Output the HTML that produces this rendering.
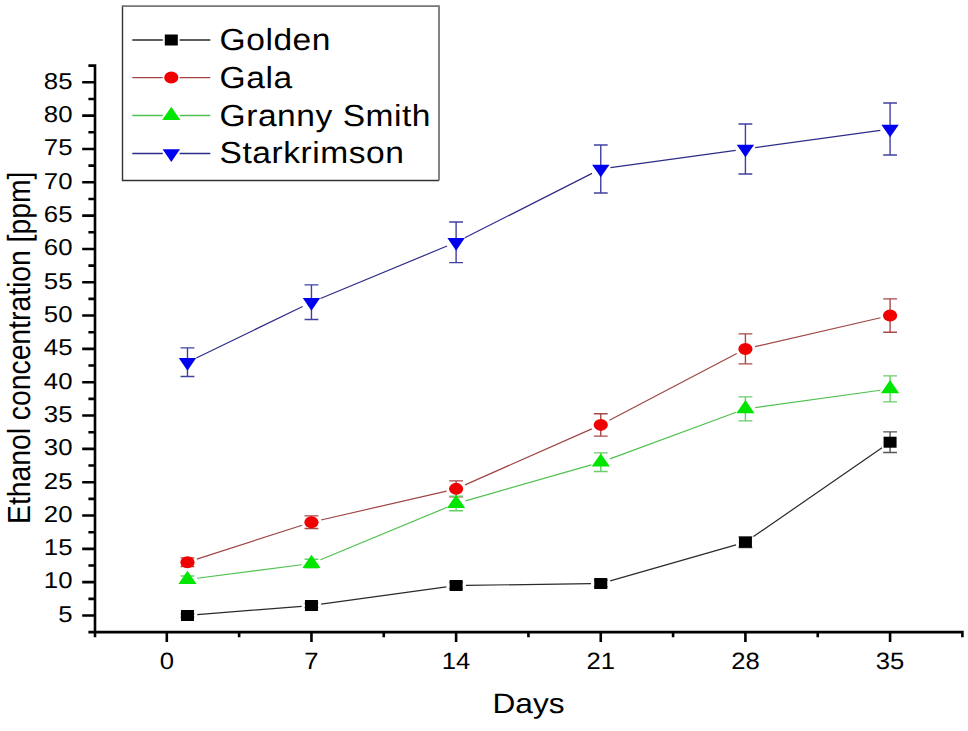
<!DOCTYPE html>
<html><head><meta charset="utf-8"><style>
html,body{margin:0;padding:0;background:#fff;}
svg{display:block;}
text{font-family:"Liberation Sans",sans-serif;fill:#000;text-rendering:geometricPrecision;}
</style></head><body>
<svg width="968" height="731" viewBox="0 0 968 731">
<rect width="968" height="731" fill="#fff"/>
<path d="M197.23,614.71L301.69,606.29M321.16,604.16L446.40,586.85M465.91,585.37L590.97,583.64M610.19,580.82L736.00,544.88M753.48,536.61L882.01,447.78" stroke="#2a2a2a" stroke-width="1.2" fill="none"/>
<path d="M196.79,559.17L302.13,525.20M321.00,519.99L446.56,491.07M465.07,484.90L591.80,428.85M609.44,420.32L736.74,353.46M754.97,346.70L880.53,317.78" stroke="#a04545" stroke-width="1.2" fill="none"/>
<path d="M197.18,578.26L301.74,564.77M320.51,559.76L447.06,507.28M465.53,500.84L591.34,464.90M609.96,458.82L736.22,412.27M755.13,407.54L880.37,390.23" stroke="#50c050" stroke-width="1.2" fill="none"/>
<path d="M196.29,357.96L302.63,306.51M320.51,298.49L447.06,246.01M464.85,237.83L592.02,173.38M610.47,167.60L735.71,150.29M755.13,147.61L880.37,130.30" stroke="#2c2c88" stroke-width="1.2" fill="none"/>
<path d="M187.47,613.83V617.17M180.56,613.83H194.37M180.56,617.17H194.37M311.46,603.34V607.67M304.56,603.34H318.36M304.56,607.67H318.36M456.11,582.34V588.67M449.21,582.34H463.01M449.21,588.67H463.01M600.76,580.24V586.77M593.87,580.24H607.66M593.87,586.77H607.66M745.42,536.85V547.52M738.52,536.85H752.32M738.52,547.52H752.32M890.08,431.88V452.54M883.18,431.88H896.98M883.18,452.54H896.98" stroke="#555555" stroke-width="1.4" fill="none"/>
<path d="M187.47,557.85V566.51M180.56,557.85H194.37M180.56,566.51H194.37M311.46,515.86V528.52M304.56,515.86H318.36M304.56,528.52H318.36M456.11,480.87V496.86M449.21,480.87H463.01M449.21,496.86H463.01M600.76,413.68V436.08M593.87,413.68H607.66M593.87,436.08H607.66M745.42,333.90V363.90M738.52,333.90H752.32M738.52,363.90H752.32M890.08,298.91V332.24M883.18,298.91H896.98M883.18,332.24H896.98" stroke="#a84848" stroke-width="1.4" fill="none"/>
<path d="M187.47,576.04V582.97M180.56,576.04H194.37M180.56,582.97H194.37M311.46,559.25V567.78M304.56,559.25H318.36M304.56,567.78H318.36M456.11,496.26V510.79M449.21,496.26H463.01M449.21,510.79H463.01M600.76,452.87V471.54M593.87,452.87H607.66M593.87,471.54H607.66M745.42,396.89V420.88M738.52,396.89H752.32M738.52,420.88H752.32M890.08,375.89V401.89M883.18,375.89H896.98M883.18,401.89H896.98" stroke="#6acc6a" stroke-width="1.4" fill="none"/>
<path d="M187.47,347.90V376.56M180.56,347.90H194.37M180.56,376.56H194.37M311.46,284.92V319.57M304.56,284.92H318.36M304.56,319.57H318.36M456.11,221.93V262.59M449.21,221.93H463.01M449.21,262.59H463.01M600.76,144.95V192.94M593.87,144.95H607.66M593.87,192.94H607.66M745.42,123.96V173.94M738.52,123.96H752.32M738.52,173.94H752.32M890.08,102.96V154.95M883.18,102.96H896.98M883.18,154.95H896.98" stroke="#4040a0" stroke-width="1.4" fill="none"/>
<rect x="180.97" y="610.00" width="13.0" height="11.0" fill="#000000"/>
<rect x="304.96" y="600.00" width="13.0" height="11.0" fill="#000000"/>
<rect x="449.61" y="580.01" width="13.0" height="11.0" fill="#000000"/>
<rect x="594.26" y="578.01" width="13.0" height="11.0" fill="#000000"/>
<rect x="738.92" y="536.68" width="13.0" height="11.0" fill="#000000"/>
<rect x="883.58" y="436.71" width="13.0" height="11.0" fill="#000000"/>
<ellipse cx="187.47" cy="562.18" rx="7.1" ry="6.0" fill="#f00000"/>
<ellipse cx="311.46" cy="522.19" rx="7.1" ry="6.0" fill="#f00000"/>
<ellipse cx="456.11" cy="488.87" rx="7.1" ry="6.0" fill="#f00000"/>
<ellipse cx="600.76" cy="424.88" rx="7.1" ry="6.0" fill="#f00000"/>
<ellipse cx="745.42" cy="348.90" rx="7.1" ry="6.0" fill="#f00000"/>
<ellipse cx="890.08" cy="315.57" rx="7.1" ry="6.0" fill="#f00000"/>
<path d="M187.47,570.71 L196.56,583.91 L178.37,583.91Z" fill="#00e600"/>
<path d="M311.46,554.71 L320.56,567.91 L302.36,567.91Z" fill="#00e600"/>
<path d="M456.11,494.73 L465.21,507.93 L447.01,507.93Z" fill="#00e600"/>
<path d="M600.76,453.41 L609.87,466.61 L591.66,466.61Z" fill="#00e600"/>
<path d="M745.42,400.08 L754.52,413.28 L736.32,413.28Z" fill="#00e600"/>
<path d="M890.08,380.09 L899.18,393.29 L880.98,393.29Z" fill="#00e600"/>
<path d="M178.77,358.03 L196.16,358.03 L187.47,370.63Z" fill="#0000f0"/>
<path d="M302.76,298.05 L320.16,298.05 L311.46,310.64Z" fill="#0000f0"/>
<path d="M447.41,238.06 L464.81,238.06 L456.11,250.66Z" fill="#0000f0"/>
<path d="M592.06,164.75 L609.47,164.75 L600.76,177.34Z" fill="#0000f0"/>
<path d="M736.72,144.75 L754.12,144.75 L745.42,157.35Z" fill="#0000f0"/>
<path d="M881.38,124.75 L898.78,124.75 L890.08,137.35Z" fill="#0000f0"/>
<path d="M95,64.34V632.16M94.47,632.16H963.70M88.4,632.16H95M82.2,615.50H95M88.4,598.84H95M82.2,582.17H95M88.4,565.51H95M82.2,548.85H95M88.4,532.19H95M82.2,515.52H95M88.4,498.86H95M82.2,482.20H95M88.4,465.54H95M82.2,448.88H95M88.4,432.21H95M82.2,415.55H95M88.4,398.89H95M82.2,382.23H95M88.4,365.56H95M82.2,348.90H95M88.4,332.24H95M82.2,315.57H95M88.4,298.91H95M82.2,282.25H95M88.4,265.59H95M82.2,248.93H95M88.4,232.26H95M82.2,215.60H95M88.4,198.94H95M82.2,182.27H95M88.4,165.61H95M82.2,148.95H95M88.4,132.29H95M82.2,115.62H95M88.4,98.96H95M82.2,82.30H95M88.4,65.64H95M88.4,65.64H95M95.00,632.16V637.3M166.80,632.16V642M239.13,632.16V637.3M311.46,632.16V642M383.78,632.16V637.3M456.11,632.16V642M528.44,632.16V637.3M600.76,632.16V642M673.09,632.16V637.3M745.42,632.16V642M817.75,632.16V637.3M890.08,632.16V642M962.40,632.16V637.3" stroke="#000" stroke-width="2.6" fill="none" stroke-linecap="butt"/>
<text x="72.5" y="621.80" font-size="23" text-anchor="end" font-family="Liberation Sans, sans-serif" transform="translate(72.5,0) scale(1.12,1) translate(-72.5,0)">5</text>
<text x="72.5" y="588.47" font-size="23" text-anchor="end" font-family="Liberation Sans, sans-serif" transform="translate(72.5,0) scale(1.12,1) translate(-72.5,0)">10</text>
<text x="72.5" y="555.15" font-size="23" text-anchor="end" font-family="Liberation Sans, sans-serif" transform="translate(72.5,0) scale(1.12,1) translate(-72.5,0)">15</text>
<text x="72.5" y="521.82" font-size="23" text-anchor="end" font-family="Liberation Sans, sans-serif" transform="translate(72.5,0) scale(1.12,1) translate(-72.5,0)">20</text>
<text x="72.5" y="488.50" font-size="23" text-anchor="end" font-family="Liberation Sans, sans-serif" transform="translate(72.5,0) scale(1.12,1) translate(-72.5,0)">25</text>
<text x="72.5" y="455.18" font-size="23" text-anchor="end" font-family="Liberation Sans, sans-serif" transform="translate(72.5,0) scale(1.12,1) translate(-72.5,0)">30</text>
<text x="72.5" y="421.85" font-size="23" text-anchor="end" font-family="Liberation Sans, sans-serif" transform="translate(72.5,0) scale(1.12,1) translate(-72.5,0)">35</text>
<text x="72.5" y="388.53" font-size="23" text-anchor="end" font-family="Liberation Sans, sans-serif" transform="translate(72.5,0) scale(1.12,1) translate(-72.5,0)">40</text>
<text x="72.5" y="355.20" font-size="23" text-anchor="end" font-family="Liberation Sans, sans-serif" transform="translate(72.5,0) scale(1.12,1) translate(-72.5,0)">45</text>
<text x="72.5" y="321.88" font-size="23" text-anchor="end" font-family="Liberation Sans, sans-serif" transform="translate(72.5,0) scale(1.12,1) translate(-72.5,0)">50</text>
<text x="72.5" y="288.55" font-size="23" text-anchor="end" font-family="Liberation Sans, sans-serif" transform="translate(72.5,0) scale(1.12,1) translate(-72.5,0)">55</text>
<text x="72.5" y="255.23" font-size="23" text-anchor="end" font-family="Liberation Sans, sans-serif" transform="translate(72.5,0) scale(1.12,1) translate(-72.5,0)">60</text>
<text x="72.5" y="221.90" font-size="23" text-anchor="end" font-family="Liberation Sans, sans-serif" transform="translate(72.5,0) scale(1.12,1) translate(-72.5,0)">65</text>
<text x="72.5" y="188.57" font-size="23" text-anchor="end" font-family="Liberation Sans, sans-serif" transform="translate(72.5,0) scale(1.12,1) translate(-72.5,0)">70</text>
<text x="72.5" y="155.25" font-size="23" text-anchor="end" font-family="Liberation Sans, sans-serif" transform="translate(72.5,0) scale(1.12,1) translate(-72.5,0)">75</text>
<text x="72.5" y="121.92" font-size="23" text-anchor="end" font-family="Liberation Sans, sans-serif" transform="translate(72.5,0) scale(1.12,1) translate(-72.5,0)">80</text>
<text x="72.5" y="88.60" font-size="23" text-anchor="end" font-family="Liberation Sans, sans-serif" transform="translate(72.5,0) scale(1.12,1) translate(-72.5,0)">85</text>
<text x="166.80" y="669" font-size="23.5" text-anchor="middle" font-family="Liberation Sans, sans-serif" transform="translate(166.80,0) scale(1.09,1) translate(-166.80,0)">0</text>
<text x="311.46" y="669" font-size="23.5" text-anchor="middle" font-family="Liberation Sans, sans-serif" transform="translate(311.46,0) scale(1.09,1) translate(-311.46,0)">7</text>
<text x="456.11" y="669" font-size="23.5" text-anchor="middle" font-family="Liberation Sans, sans-serif" transform="translate(456.11,0) scale(1.09,1) translate(-456.11,0)">14</text>
<text x="600.76" y="669" font-size="23.5" text-anchor="middle" font-family="Liberation Sans, sans-serif" transform="translate(600.76,0) scale(1.09,1) translate(-600.76,0)">21</text>
<text x="745.42" y="669" font-size="23.5" text-anchor="middle" font-family="Liberation Sans, sans-serif" transform="translate(745.42,0) scale(1.09,1) translate(-745.42,0)">28</text>
<text x="890.08" y="669" font-size="23.5" text-anchor="middle" font-family="Liberation Sans, sans-serif" transform="translate(890.08,0) scale(1.09,1) translate(-890.08,0)">35</text>
<text x="528.5" y="713.4" font-size="28" text-anchor="middle" font-family="Liberation Sans, sans-serif" transform="translate(528.5,0) scale(1.13,1) translate(-528.5,0)">Days</text>
<text font-size="28.3" text-anchor="middle" font-family="Liberation Sans, sans-serif" transform="translate(29.8,347.8) scale(1.13,1) rotate(-90)">Ethanol concentration [ppm]</text>
<path d="M122.5,5.5V180.5H439" stroke="#333" stroke-width="1.4" fill="none"/>
<path d="M122,6.1H439V180.5" stroke="#777" stroke-width="1.8" fill="none"/>
<path d="M132.3,40H162.7M179.6,40H210.3" stroke="#2a2a2a" stroke-width="1.4" fill="none"/>
<rect x="164.80" y="34.50" width="13.0" height="11.0" fill="#000000"/>
<text x="219.6" y="49.8" font-size="30.5" letter-spacing="0.48" font-family="Liberation Sans, sans-serif" transform="translate(219.6,0) scale(1.1,1) translate(-219.6,0)">Golden</text>
<path d="M132.3,77.6H162.7M179.6,77.6H210.3" stroke="#a04545" stroke-width="1.4" fill="none"/>
<ellipse cx="171.30" cy="77.60" rx="7.1" ry="6.0" fill="#f00000"/>
<text x="219.6" y="88.3" font-size="30.5" letter-spacing="0.48" font-family="Liberation Sans, sans-serif" transform="translate(219.6,0) scale(1.1,1) translate(-219.6,0)">Gala</text>
<path d="M132.3,115.5H162.7M179.6,115.5H210.3" stroke="#50c050" stroke-width="1.4" fill="none"/>
<path d="M171.30,106.70 L180.40,119.90 L162.20,119.90Z" fill="#00e600"/>
<text x="219.6" y="125.8" font-size="30.5" letter-spacing="0.48" font-family="Liberation Sans, sans-serif" transform="translate(219.6,0) scale(1.1,1) translate(-219.6,0)">Granny Smith</text>
<path d="M132.3,153.5H162.7M179.6,153.5H210.3" stroke="#2c2c88" stroke-width="1.4" fill="none"/>
<path d="M162.60,149.30 L180.00,149.30 L171.30,161.90Z" fill="#0000f0"/>
<text x="219.6" y="163.1" font-size="30.5" letter-spacing="0.48" font-family="Liberation Sans, sans-serif" transform="translate(219.6,0) scale(1.1,1) translate(-219.6,0)">Starkrimson</text>
</svg>
</body></html>
